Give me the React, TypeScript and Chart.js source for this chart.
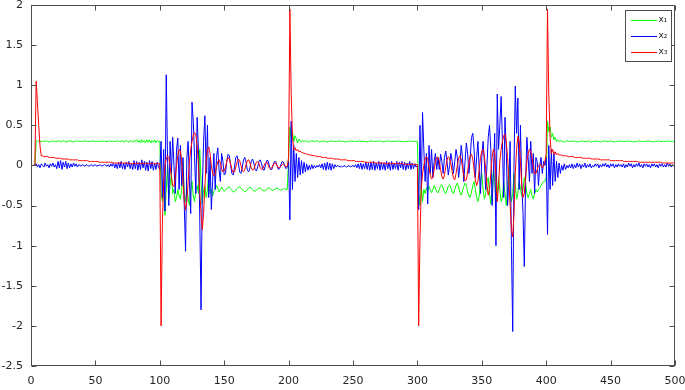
import React, { useEffect, useRef } from 'react';
import { Chart, registerables } from 'chart.js';

Chart.register(...registerables);

// ---- data ---------------------------------------------------------------
// Time axis: each segment starts at SEG_START[k], one value per time unit.
const SEG_START = [0, 100, 200, 300, 400];

const SERIES_NAMES = ['x\u2081', 'x\u2082', 'x\u2083'];
const SERIES_COLORS = ['#00ff00', '#0000ff', '#ff0000'];

const X_TICKS = [0, 50, 100, 150, 200, 250, 300, 350, 400, 450, 500];
const Y_TICKS = [-2.5, -2, -1.5, -1, -0.5, 0, 0.5, 1, 1.5, 2];

// x1 (green)
const X1_A = [
  0, 0, 0, 0, 0.3, 0.31, 0.3, 0.29, 0.3, 0.3,
  0.3, 0.31, 0.3, 0.3, 0.29, 0.3, 0.3, 0.31, 0.3, 0.3,
  0.3, 0.3, 0.31, 0.29, 0.3, 0.31, 0.3, 0.3, 0.29, 0.31,
  0.3, 0.31, 0.29, 0.3, 0.3, 0.3, 0.31, 0.3, 0.3, 0.3,
  0.3, 0.3, 0.31, 0.3, 0.3, 0.3, 0.3, 0.3, 0.31, 0.3,
  0.3, 0.3, 0.3, 0.3, 0.3, 0.31, 0.3, 0.3, 0.3, 0.3,
  0.3, 0.31, 0.3, 0.3, 0.3, 0.3, 0.3, 0.31, 0.3, 0.3,
  0.3, 0.31, 0.29, 0.3, 0.31, 0.3, 0.29, 0.31, 0.3, 0.29,
  0.31, 0.3, 0.32, 0.29, 0.31, 0.28, 0.32, 0.29, 0.31, 0.28,
  0.32, 0.29, 0.32, 0.28, 0.31, 0.29, 0.32, 0.28, 0.31, 0.3,
];
const X1_B = [
  0.3, -0.35, -0.45, -0.2, -0.62, -0.3, 0.0, -0.4, -0.25, -0.1,
  -0.35, -0.3, -0.45, -0.4, -0.3, -0.38, -0.42, -0.3, 0.05, -0.35,
  -0.45, -0.3, -0.4, -0.5, -0.3, -0.2, -0.38, -0.45, -0.3, -0.25,
  -0.35, 0.2, -0.2, -0.48, -0.3, -0.25, -0.4, -0.3, -0.1, -0.35,
  -0.3, -0.38, -0.32, -0.3, -0.25, -0.28, -0.33, -0.3, -0.27, -0.3,
  -0.32, -0.31, -0.29, -0.27, -0.27, -0.29, -0.31, -0.33, -0.33, -0.31,
  -0.29, -0.27, -0.27, -0.28, -0.3, -0.32, -0.33, -0.32, -0.3, -0.28,
  -0.27, -0.28, -0.3, -0.32, -0.32, -0.31, -0.29, -0.28, -0.28, -0.3,
  -0.31, -0.32, -0.31, -0.3, -0.28, -0.28, -0.29, -0.31, -0.31, -0.3,
  -0.29, -0.28, -0.29, -0.3, -0.31, -0.3, -0.29, -0.29, -0.3, -0.3,
];
const X1_C = [
  0.1, 0.48, 0.35, 0.42, 0.3, 0.37, 0.33, 0.28, 0.33, 0.31,
  0.29, 0.31, 0.3, 0.31, 0.3, 0.3, 0.29, 0.3, 0.31, 0.3,
  0.3, 0.3, 0.31, 0.3, 0.29, 0.3, 0.3, 0.31, 0.3, 0.3,
  0.29, 0.3, 0.3, 0.31, 0.3, 0.3, 0.3, 0.3, 0.3, 0.31,
  0.3, 0.3, 0.3, 0.3, 0.29, 0.3, 0.3, 0.3, 0.31, 0.3,
  0.3, 0.3, 0.3, 0.3, 0.3, 0.31, 0.3, 0.3, 0.3, 0.3,
  0.3, 0.29, 0.3, 0.3, 0.31, 0.3, 0.3, 0.3, 0.3, 0.3,
  0.31, 0.3, 0.3, 0.3, 0.29, 0.3, 0.3, 0.31, 0.3, 0.3,
  0.3, 0.3, 0.3, 0.3, 0.3, 0.31, 0.3, 0.3, 0.3, 0.3,
  0.29, 0.3, 0.3, 0.3, 0.31, 0.3, 0.3, 0.3, 0.3, 0.3,
];
const X1_D = [
  0.3, -0.35, -0.5, -0.25, -0.45, -0.3, -0.35, -0.28, -0.32, -0.26,
  -0.3, -0.34, -0.3, -0.25, -0.28, -0.33, -0.34, -0.3, -0.25, -0.24,
  -0.28, -0.33, -0.35, -0.31, -0.26, -0.24, -0.28, -0.33, -0.35, -0.3,
  -0.25, -0.22, -0.27, -0.34, -0.37, -0.32, -0.26, -0.22, -0.25, -0.33,
  -0.38, -0.4, -0.33, -0.25, -0.2, -0.3, -0.4, -0.45, -0.38, -0.2,
  -0.1, -0.3, -0.42, -0.35, -0.2, -0.15, -0.35, -0.48, -0.3, -0.05,
  -0.2, -0.45, -0.35, -0.15, -0.3, -0.45, -0.4, -0.2, -0.35, -0.5,
  -0.3, 0.0, -0.3, -0.45, -0.35, -0.1, -0.25, -0.42, -0.35, -0.2,
  -0.28, -0.38, -0.3, -0.15, -0.22, -0.35, -0.4, -0.35, -0.3, -0.38,
  -0.42, -0.35, -0.3, -0.33, -0.3, -0.28, -0.25, -0.22, -0.2, -0.2,
];
const X1_E = [
  -0.15, 0.55, 0.42, 0.48, 0.35, 0.4, 0.32, 0.35, 0.3, 0.32,
  0.3, 0.31, 0.3, 0.3, 0.29, 0.3, 0.31, 0.3, 0.3, 0.3,
  0.3, 0.31, 0.3, 0.3, 0.3, 0.29, 0.3, 0.3, 0.31, 0.3,
  0.3, 0.3, 0.3, 0.31, 0.3, 0.29, 0.3, 0.3, 0.3, 0.31,
  0.3, 0.3, 0.29, 0.3, 0.3, 0.31, 0.3, 0.3, 0.3, 0.3,
  0.31, 0.3, 0.3, 0.29, 0.3, 0.3, 0.3, 0.31, 0.3, 0.3,
  0.3, 0.3, 0.3, 0.3, 0.31, 0.3, 0.3, 0.3, 0.29, 0.3,
  0.3, 0.3, 0.31, 0.3, 0.3, 0.3, 0.3, 0.3, 0.3, 0.31,
  0.3, 0.3, 0.3, 0.29, 0.3, 0.3, 0.3, 0.31, 0.3, 0.3,
  0.3, 0.3, 0.3, 0.3, 0.3, 0.31, 0.3, 0.3, 0.3, 0.3,
  0.3,
];

// x2 (blue)
const X2_A = [
  0, 0, 0, 0, 0.02, -0.02, 0.01, -0.03, 0.02, 0.0,
  -0.02, 0.03, -0.01, 0.01, -0.03, 0.02, -0.01, 0.03, -0.02, 0.01,
  -0.04, 0.05, -0.03, 0.06, -0.05, 0.04, -0.02, 0.05, -0.04, 0.03,
  -0.03, 0.02, -0.02, 0.03, -0.01, 0.02, -0.02, 0.01, 0.0, -0.01,
  0.01, 0.0, -0.01, 0.01, 0.0, -0.01, 0.0, 0.01, -0.01, 0.0,
  0.01, -0.01, 0.0, 0.0, 0.01, -0.01, 0.0, 0.01, 0.0, -0.01,
  0.01, -0.02, 0.02, -0.01, 0.03, -0.03, 0.02, -0.04, 0.04, -0.03,
  0.05, -0.04, 0.03, -0.05, 0.04, -0.02, 0.05, -0.04, 0.03, -0.05,
  0.06, -0.04, 0.05, -0.06, 0.04, -0.05, 0.07, -0.03, 0.05, -0.06,
  0.04, -0.07, 0.06, -0.04, 0.05, -0.06, 0.03, -0.05, 0.04, -0.02,
];
const X2_B = [
  -0.05, 0.3, -0.4, 0.2, -0.57, 1.13, 0.1, -0.5, 0.3, -0.1,
  0.35, 0.0, -0.35, 0.2, 0.34, -0.3, 0.25, -0.25, 0.1, -0.5,
  -1.07, 0.1, 0.3, -0.2, -0.6, 0.79, 0.55, 0.1, -0.35, 0.6,
  0.2, -0.6, -1.8, -0.3, 0.3, 0.62, -0.1, 0.5, -0.4, 0.1,
  -0.55, -0.2, 0.15, -0.3, 0.1, 0.22, -0.05, -0.2, 0.15, 0.05,
  -0.12, -0.1, 0.05, 0.14, 0.12, 0.0, -0.1, -0.12, -0.02, 0.1,
  0.12, 0.03, -0.08, -0.1, -0.03, 0.07, 0.1, 0.04, -0.06, -0.08,
  -0.03, 0.05, 0.08, 0.03, -0.05, -0.07, -0.02, 0.05, 0.07, 0.02,
  -0.05, -0.06, 0.0, 0.06, 0.06, 0.0, -0.05, -0.05, 0.01, 0.05,
  0.05, 0.0, -0.05, -0.04, 0.01, 0.05, 0.04, -0.01, -0.04, -0.02,
];
const X2_C = [
  0.05, -0.68, 0.55, -0.3, 0.25, -0.2, 0.15, -0.15, 0.1, -0.12,
  0.06, -0.1, 0.04, -0.08, 0.02, -0.06, 0.0, -0.05, 0.01, -0.04,
  0.0, -0.03, 0.0, -0.02, 0.01, -0.03, 0.02, -0.05, 0.03, -0.06,
  0.04, -0.05, 0.03, -0.06, 0.02, -0.04, 0.01, -0.02, 0.0, -0.01,
  -0.02, -0.01, -0.02, 0.0, -0.01, -0.02, -0.01, 0.0, -0.02, -0.01,
  0.0, -0.02, 0.01, -0.03, 0.02, -0.04, 0.03, -0.05, 0.02, -0.04,
  0.04, -0.05, 0.03, -0.06, 0.04, -0.05, 0.05, -0.06, 0.03, -0.04,
  0.05, -0.06, 0.04, -0.05, 0.03, -0.06, 0.05, -0.04, 0.04, -0.06,
  0.05, -0.05, 0.03, -0.04, 0.05, -0.06, 0.04, -0.03, 0.05, -0.05,
  0.04, -0.06, 0.03, -0.04, 0.05, -0.05, 0.03, -0.04, 0.02, -0.02,
];
const X2_D = [
  0.0, -0.55, 0.5, -0.3, 0.66, 0.2, -0.2, 0.15, -0.48, 0.25,
  -0.1, 0.2, -0.15, 0.05, 0.15, -0.05, 0.1, -0.05, 0.14, 0.05,
  -0.1, 0.1, 0.18, 0.05, -0.12, 0.0, 0.15, 0.05, -0.1, 0.05,
  0.2, 0.1, -0.15, 0.0, 0.25, 0.1, -0.2, 0.05, 0.28, 0.15,
  -0.1, 0.1, 0.35, 0.4, 0.2, -0.15, 0.1, 0.3, -0.05, -0.35,
  0.1, 0.3, 0.05, -0.3, 0.0, 0.35, 0.5, 0.2, -0.5, -0.1,
  0.4, -1.0, 0.89, 0.2, 0.5, 0.86, 0.3, -0.4, 0.6, 0.2,
  -0.5, -0.2, 0.3, -1.0, -2.07, 0.0, 0.99, 0.4, 0.84, -0.3,
  0.5, -0.2, -0.6, -1.26, -0.2, 0.35, 0.1, -0.2, 0.3, -0.1,
  0.15, -0.35, 0.1, 0.05, -0.25, 0.0, 0.1, -0.1, 0.05, 0.0,
];
const X2_E = [
  0.1, -0.86, 0.25, -0.3, 0.2, -0.25, 0.15, -0.2, 0.05, -0.15,
  0.03, -0.1, 0.0, -0.06, 0.02, -0.05, 0.0, -0.03, 0.01, -0.03,
  0.02, -0.04, 0.01, -0.03, 0.03, -0.02, 0.02, -0.04, 0.01, -0.02,
  0.03, -0.03, 0.01, -0.02, 0.02, -0.03, 0.0, -0.02, 0.02, -0.01,
  0.02, -0.03, 0.01, -0.02, 0.02, -0.01, 0.03, -0.02, 0.01, -0.03,
  0.02, -0.01, 0.02, -0.03, 0.01, -0.02, 0.02, -0.01, 0.01, -0.02,
  0.02, -0.03, 0.01, -0.02, 0.03, -0.01, 0.02, -0.03, 0.01, -0.02,
  0.02, -0.01, 0.03, -0.02, 0.01, -0.03, 0.02, -0.01, 0.02, -0.02,
  0.01, -0.03, 0.02, -0.01, 0.02, -0.02, 0.01, -0.03, 0.02, -0.01,
  0.02, -0.02, 0.01, -0.02, 0.03, -0.01, 0.02, -0.02, 0.01, -0.01,
  0.0,
];

// x3 (red)
const X3_A = [
  0, 0, 0, 0, 1.05, 0.78, 0.5, 0.24, 0.12, 0.12,
  0.11, 0.11, 0.11, 0.11, 0.1, 0.1, 0.1, 0.1, 0.1, 0.09,
  0.09, 0.09, 0.09, 0.09, 0.08, 0.08, 0.08, 0.08, 0.08, 0.08,
  0.07, 0.07, 0.07, 0.07, 0.07, 0.07, 0.07, 0.06, 0.06, 0.06,
  0.06, 0.06, 0.06, 0.06, 0.06, 0.05, 0.05, 0.05, 0.05, 0.05,
  0.05, 0.05, 0.05, 0.04, 0.04, 0.04, 0.04, 0.04, 0.04, 0.04,
  0.04, 0.04, 0.04, 0.04, 0.03, 0.03, 0.03, 0.03, 0.03, 0.03,
  0.03, 0.03, 0.03, 0.03, 0.03, 0.03, 0.03, 0.02, 0.02, 0.02,
  0.03, 0.02, 0.03, 0.02, 0.03, 0.02, 0.03, 0.02, 0.02, 0.03,
  0.02, 0.02, 0.03, 0.02, 0.02, 0.03, 0.02, 0.02, 0.03, 0.02,
];
const X3_B = [
  0.02, -2.0, -0.7, -0.2, 0.0, 0.08, 0.12, 0.1, 0.0, -0.15,
  -0.25, -0.26, -0.15, 0.0, 0.12, 0.2, 0.18, 0.05, -0.2, -0.45,
  -0.55, -0.45, -0.2, 0.05, 0.2, 0.3, 0.38, 0.41, 0.38, 0.25,
  0.0, -0.3, -0.6, -0.8, -0.6, -0.25, 0.05, 0.2, 0.23, 0.15,
  0.0, -0.1, -0.13, -0.1, -0.02, 0.05, 0.07, 0.03, -0.04, -0.08,
  -0.07, -0.02, 0.05, 0.1, 0.08, 0.02, -0.05, -0.09, -0.08, -0.02,
  0.04, 0.08, 0.06, 0.0, -0.06, -0.08, -0.05, 0.01, 0.06, 0.07,
  0.03, -0.03, -0.06, -0.05, 0.0, 0.04, 0.05, 0.02, -0.03, -0.05,
  -0.04, 0.0, 0.03, 0.04, 0.01, -0.03, -0.04, -0.03, 0.0, 0.03,
  0.03, 0.0, -0.03, -0.03, -0.01, 0.01, 0.02, 0.0, -0.02, -0.01,
];
const X3_C = [
  0.1, 1.95, 0.9, 0.35, 0.2, 0.22, 0.18, 0.2, 0.17, 0.18,
  0.16, 0.16, 0.15, 0.15, 0.14, 0.14, 0.13, 0.13, 0.13, 0.12,
  0.12, 0.12, 0.11, 0.11, 0.11, 0.11, 0.1, 0.1, 0.1, 0.1,
  0.09, 0.09, 0.09, 0.09, 0.09, 0.08, 0.08, 0.08, 0.08, 0.08,
  0.07, 0.07, 0.07, 0.07, 0.07, 0.07, 0.06, 0.06, 0.06, 0.06,
  0.06, 0.06, 0.05, 0.05, 0.05, 0.05, 0.05, 0.05, 0.05, 0.04,
  0.04, 0.04, 0.04, 0.04, 0.04, 0.04, 0.04, 0.03, 0.03, 0.03,
  0.03, 0.03, 0.03, 0.03, 0.03, 0.03, 0.02, 0.02, 0.03, 0.02,
  0.02, 0.03, 0.02, 0.02, 0.03, 0.02, 0.02, 0.02, 0.03, 0.01,
  0.02, 0.02, 0.01, 0.02, 0.01, 0.02, 0.01, 0.01, 0.02, 0.01,
];
const X3_D = [
  0.01, -2.0, -0.9, -0.3, -0.1, 0.0, 0.08, 0.11, 0.08, -0.02,
  -0.12, -0.17, -0.15, -0.05, 0.05, 0.1, 0.1, 0.05, -0.05, -0.14,
  -0.17, -0.12, -0.02, 0.07, 0.11, 0.09, 0.02, -0.08, -0.16, -0.18,
  -0.1, 0.0, 0.09, 0.12, 0.08, -0.02, -0.12, -0.19, -0.18, -0.08,
  0.04, 0.12, 0.14, 0.08, -0.05, -0.18, -0.25, -0.2, -0.05, 0.1,
  0.18, 0.2, 0.12, -0.05, -0.25, -0.37, -0.3, -0.1, 0.1, 0.2,
  0.15, -0.15, -0.45, -0.25, 0.05, 0.2, 0.3, 0.37, 0.39, 0.3,
  0.1, -0.2, -0.5, -0.8, -0.89, -0.6, -0.1, 0.2, 0.36, 0.3,
  0.05, -0.25, -0.4, -0.35, -0.15, 0.05, 0.15, 0.2, 0.18, 0.1,
  -0.02, -0.1, -0.1, -0.05, 0.0, 0.02, 0.0, -0.03, 0.0, 0.05,
];
const X3_E = [
  0.15, 1.95, 0.9, 0.35, 0.15, 0.2, 0.14, 0.17, 0.13, 0.15,
  0.13, 0.13, 0.13, 0.12, 0.12, 0.12, 0.12, 0.11, 0.11, 0.11,
  0.11, 0.11, 0.1, 0.1, 0.1, 0.1, 0.1, 0.1, 0.09, 0.09,
  0.09, 0.09, 0.09, 0.09, 0.09, 0.08, 0.08, 0.08, 0.08, 0.08,
  0.08, 0.08, 0.07, 0.07, 0.07, 0.07, 0.07, 0.07, 0.07, 0.07,
  0.06, 0.06, 0.06, 0.06, 0.06, 0.06, 0.06, 0.06, 0.06, 0.06,
  0.05, 0.05, 0.05, 0.05, 0.05, 0.05, 0.05, 0.05, 0.05, 0.05,
  0.05, 0.05, 0.04, 0.04, 0.04, 0.04, 0.04, 0.04, 0.04, 0.04,
  0.04, 0.04, 0.04, 0.04, 0.04, 0.04, 0.04, 0.04, 0.04, 0.04,
  0.03, 0.03, 0.03, 0.03, 0.03, 0.03, 0.03, 0.03, 0.03, 0.03,
  0.03,
];

const X1_SEGS = [X1_A, X1_B, X1_C, X1_D, X1_E];
const X2_SEGS = [X2_A, X2_B, X2_C, X2_D, X2_E];
const X3_SEGS = [X3_A, X3_B, X3_C, X3_D, X3_E];

// ---- helpers ------------------------------------------------------------
function toPoints(segs: number[][]) {
  const pts: { x: number; y: number }[] = [];
  segs.forEach((seg, k) => {
    seg.forEach((v, i) => pts.push({ x: SEG_START[k] + i, y: v }));
  });
  return pts;
}

const AXIS_COLOR = '#4d4d4d';
const TEXT_COLOR = '#262626';
const FONT_FAMILY = '"DejaVu Sans", "Liberation Sans", sans-serif';

const framePlugin = {
  id: 'matlabFrame',
  afterDatasetsDraw(chart: any) {
    const { ctx, chartArea: a, scales } = chart;
    ctx.save();
    ctx.strokeStyle = AXIS_COLOR;
    ctx.lineWidth = 1;
    const L = Math.round(a.left) + 0.5;
    const R = Math.round(a.right) - 0.5;
    const T = Math.round(a.top) + 0.5;
    const B = Math.round(a.bottom) - 0.5;
    ctx.strokeRect(L, T, R - L, B - T);
    ctx.beginPath();
    X_TICKS.forEach((v) => {
      const x = Math.round(scales.x.getPixelForValue(v)) + 0.5;
      ctx.moveTo(x, B);
      ctx.lineTo(x, B - 5);
      ctx.moveTo(x, T);
      ctx.lineTo(x, T + 5);
    });
    Y_TICKS.forEach((v) => {
      const y = Math.round(scales.y.getPixelForValue(v)) + 0.5;
      ctx.moveTo(L, y);
      ctx.lineTo(L + 5, y);
      ctx.moveTo(R, y);
      ctx.lineTo(R - 5, y);
    });
    ctx.stroke();

    // legend box in upper right corner of the axes
    const boxW = 46;
    const boxH = 51;
    const bx = Math.round(a.right) - 49.5;
    const by = Math.round(a.top) + 5.5;
    ctx.fillStyle = '#ffffff';
    ctx.fillRect(bx, by, boxW, boxH);
    ctx.strokeStyle = AXIS_COLOR;
    ctx.lineWidth = 1;
    ctx.strokeRect(bx, by, boxW, boxH);
    ctx.font = `9px ${FONT_FAMILY}`;
    ctx.textBaseline = 'middle';
    ctx.textAlign = 'left';
    SERIES_NAMES.forEach((name, i) => {
      const yy = Math.round(by + 9 + i * 16);
      ctx.fillStyle = SERIES_COLORS[i];
      ctx.fillRect(Math.round(bx) + 5, yy, 26, 1);
      ctx.fillStyle = TEXT_COLOR;
      ctx.fillText(name, bx + 33, yy);
    });
    ctx.restore();
  },
};

export default function App() {
  const ref = useRef<HTMLCanvasElement>(null);

  useEffect(() => {
    const seriesSegs = [X1_SEGS, X2_SEGS, X3_SEGS];
    const chart = new Chart(ref.current as HTMLCanvasElement, {
      type: 'line',
      data: {
        datasets: seriesSegs.map((segs, i) => ({
          label: SERIES_NAMES[i],
          data: toPoints(segs),
          borderColor: SERIES_COLORS[i],
          backgroundColor: SERIES_COLORS[i],
          borderWidth: 1,
          pointRadius: 0,
          tension: 0,
          fill: false,
          order: 2 - i,
        })),
      },
      options: {
        responsive: false,
        animation: false,
        devicePixelRatio: 1,
        layout: { padding: { top: 5, right: 10, left: 0, bottom: 0 } },
        plugins: {
          legend: { display: false },
          tooltip: { enabled: false },
        },
        scales: {
          x: {
            type: 'linear',
            min: 0,
            max: 500,
            grid: { display: false, drawTicks: false },
            border: { display: false },
            afterBuildTicks: (s: any) => {
              s.ticks = X_TICKS.map((v) => ({ value: v }));
            },
            afterFit: (s: any) => {
              s.height = 24;
              s.paddingLeft = 0;
              s.paddingRight = 0;
            },
            ticks: {
              autoSkip: false,
              maxRotation: 0,
              padding: 9,
              color: TEXT_COLOR,
              font: { family: FONT_FAMILY, size: 11 },
              callback: (v: any) => String(v),
            },
          },
          y: {
            type: 'linear',
            min: -2.5,
            max: 2,
            grid: { display: false, drawTicks: false },
            border: { display: false },
            afterBuildTicks: (s: any) => {
              s.ticks = Y_TICKS.map((v) => ({ value: v }));
            },
            afterFit: (s: any) => {
              s.width = 31;
              s.paddingTop = 0;
              s.paddingBottom = 0;
            },
            ticks: {
              autoSkip: false,
              padding: 8,
              color: TEXT_COLOR,
              font: { family: FONT_FAMILY, size: 11 },
              callback: (v: any) => String(v),
            },
          },
        },
      },
      plugins: [framePlugin],
    });
    return () => chart.destroy();
  }, []);

  return (
    <div style={{ position: 'absolute', left: 0, top: 0, width: 685, height: 390, background: '#ffffff' }}>
      <canvas ref={ref} width={685} height={390} style={{ display: 'block' }} />
    </div>
  );
}
